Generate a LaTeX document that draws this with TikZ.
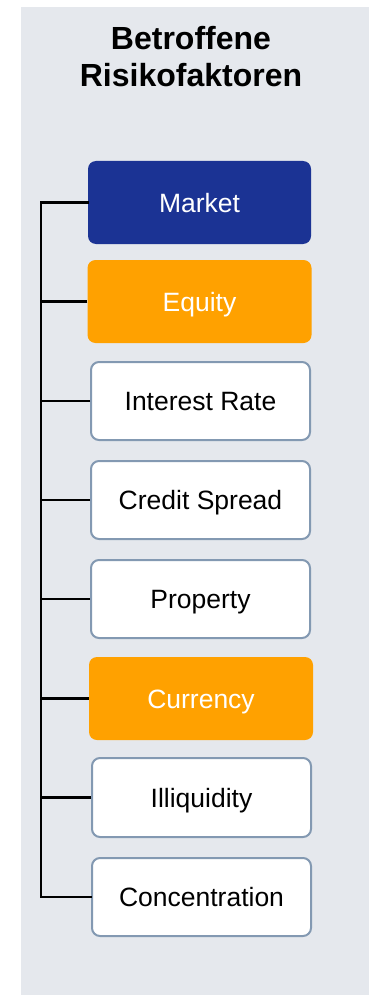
\documentclass[tikz,border=0pt]{standalone}
\usepackage{fontspec}
\setmainfont{Liberation Sans}
\definecolor{panelbg}{HTML}{E5E8ED}
\definecolor{mblue}{HTML}{1B3394}
\definecolor{morange}{HTML}{FFA100}
\definecolor{mborder}{HTML}{8399B2}
\tikzset{
  fbox/.style={rectangle, rounded corners=8pt, inner sep=0pt, font=\fontsize{26.5}{30}\selectfont, text height=19pt, text depth=0pt},
  bluebox/.style={fbox, fill=mblue, text=white, minimum width=223pt, minimum height=83pt},
  orangebox/.style={fbox, fill=morange, text=white, minimum width=224pt, minimum height=83pt},
  whitebox/.style={fbox, fill=white, draw=mborder, line width=2pt, text=black, minimum width=219pt, minimum height=78pt},
  conn/.style={draw=black, line width=2.3pt}
}
\begin{document}
\begin{tikzpicture}[x=1pt,y=-1pt]
\useasboundingbox (0,0) rectangle (369,995);
\fill[panelbg] (21,7) rectangle (369,995);
\node[font=\bfseries\fontsize{32}{37}\selectfont, align=center] (title) at (191,57) {Betroffene\\Risikofaktoren};
\node[bluebox] (market) at (199.5,202.5) {Market};
\node[orangebox] (equity) at (199.5,301.5) {Equity};
\node[whitebox] (interest) at (200.5,401) {Interest Rate};
\node[whitebox] (credit) at (200.5,500) {Credit Spread};
\node[whitebox] (property) at (200.5,599) {Property};
\node[orangebox] (currency) at (201,698.5) {Currency};
\node[whitebox, minimum width=219pt, minimum height=79pt] (illiq) at (201.5,797.5) {Illiquidity};
\node[whitebox] (conc) at (201.5,897) {Concentration};
\coordinate (top) at (41,202.5);
\coordinate (bot) at (41,897);
\draw[conn, line cap=rect] (market.west) -- (top) -- (bot) -- (conc.west);
\foreach \n in {equity,interest,credit,property,currency,illiq}
  \draw[conn] (\n.west) -- (top |- \n.west);
\end{tikzpicture}
\end{document}
